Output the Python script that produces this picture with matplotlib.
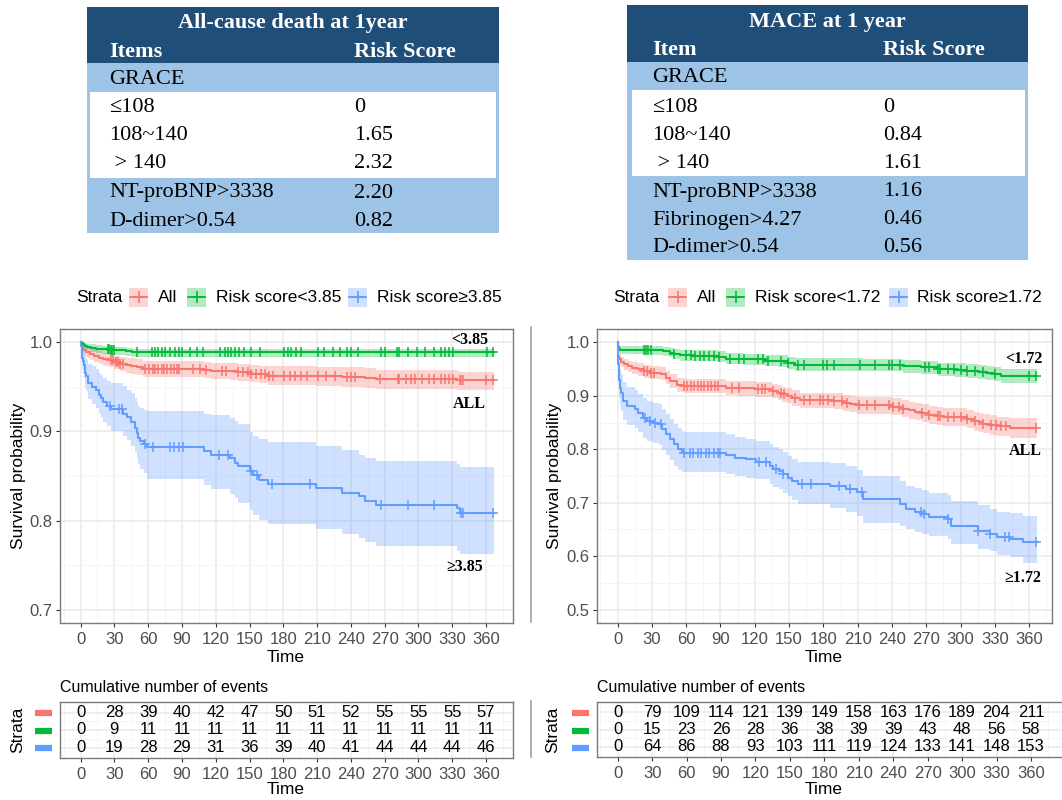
import numpy as np
import matplotlib
matplotlib.use('Agg')
import matplotlib.pyplot as plt
from matplotlib.patches import Rectangle

W, H = 1062, 800
plt.rcParams['font.family'] = ['Liberation Sans', 'DejaVu Sans']
SERIF = ['Liberation Serif', 'DejaVu Serif']

# ---------------- tables ----------------
TBL1_TITLE = "All-cause death at 1year"
TBL1_HEAD = ["Items", "Risk Score"]
TBL1_ITEMS = ["GRACE", "\u2264108", "108~140", " > 140", "NT-proBNP>3338", "D-dimer>0.54"]
TBL1_SCORES = ["", "0", "1.65", "2.32", "2.20", "0.82"]

TBL2_TITLE = "MACE at 1 year"
TBL2_HEAD = ["Item", "Risk Score"]
TBL2_ITEMS = ["GRACE", "\u2264108", "108~140", " > 140", "NT-proBNP>3338", "Fibrinogen>4.27", "D-dimer>0.54"]
TBL2_SCORES = ["", "0", "0.84", "1.61", "1.16", "0.46", "0.56"]

# ---------------- legend labels ----------------
L_LABELS = ["All", "Risk score<3.85", "Risk score\u22653.85"]
R_LABELS = ["All", "Risk score<1.72", "Risk score\u22651.72"]
L_ANNOT = ["<3.85", "ALL", "\u22653.85"]
R_ANNOT = ["<1.72", "ALL", "\u22651.72"]

END_TIME = 367
TIME_BREAKS = [0, 30, 60, 90, 120, 150, 180, 210, 240, 270, 300, 330, 360]

# ---------------- left panel: all-cause death ----------------
L_ALL_T = [0, 1, 2, 3, 5, 8, 12, 16, 20, 25, 30, 35, 40, 45, 50, 55, 110, 116, 133, 140, 150, 158, 166, 209, 232, 253, 262, 334, 337]
L_ALL_S = [1.000, 0.996, 0.993, 0.991, 0.989, 0.987, 0.985, 0.983, 0.981, 0.980, 0.978, 0.976, 0.975, 0.973, 0.972, 0.970,
           0.9690, 0.9682, 0.9674, 0.9665, 0.9650, 0.9640, 0.9625, 0.9618, 0.9610, 0.9600, 0.9590, 0.9582, 0.9574]
L_ALL_LO = [1.000, 0.992, 0.988, 0.985, 0.983, 0.980, 0.978, 0.976, 0.974, 0.972, 0.970, 0.968, 0.966, 0.964, 0.963, 0.961,
            0.960, 0.959, 0.958, 0.957, 0.955, 0.954, 0.952, 0.951, 0.950, 0.949, 0.948, 0.947, 0.946]
L_ALL_HI = [1.000, 0.999, 0.998, 0.997, 0.995, 0.993, 0.992, 0.990, 0.988, 0.987, 0.985, 0.984, 0.983, 0.982, 0.981, 0.979,
            0.978, 0.977, 0.977, 0.976, 0.975, 0.974, 0.973, 0.972, 0.972, 0.971, 0.969, 0.968, 0.967]
L_ALL_C = [27, 29, 31, 33, 35, 38, 57, 61, 64, 66, 69, 72, 74, 77, 80, 83, 86, 87, 100, 106, 111, 126, 129, 140, 144, 149,
           151, 156, 160, 164, 167, 171, 181, 186, 190, 196, 201, 211, 218, 226, 237, 240, 244, 266, 282, 283, 289, 293,
           297, 303, 309, 314, 320, 324, 327, 331, 337, 338, 340, 360, 366]

L_LOW_T = [0, 1, 2, 3, 4, 6, 9, 14, 20, 27, 40, 46]
L_LOW_S = [1.000, 0.999, 0.998, 0.997, 0.996, 0.995, 0.994, 0.993, 0.992, 0.991, 0.990, 0.989]
L_LOW_LO = [1.000, 0.997, 0.995, 0.994, 0.992, 0.991, 0.989, 0.988, 0.987, 0.986, 0.985, 0.984]
L_LOW_HI = [1.000, 1.000, 1.000, 0.999, 0.999, 0.998, 0.998, 0.997, 0.996, 0.995, 0.994, 0.993]
L_LOW_C = [24, 25, 27, 28, 30, 50, 63, 66, 69, 72, 75, 79, 84, 87, 90, 97, 103, 109, 124, 128, 131, 134, 137, 141, 145,
           151, 159, 181, 184, 187, 191, 196, 211, 216, 224, 230, 237, 240, 246, 267, 270, 281, 283, 291, 299, 306, 314,
           320, 324, 327, 331, 361, 366]

L_HIGH_T = [0, 0.5, 1, 1.5, 2, 3, 4, 5, 7, 10, 14, 16, 18, 20, 23, 27, 38, 41, 45, 48, 50, 51, 53, 56, 59, 110, 116,
            133, 137, 140, 150, 153, 158, 166, 209, 232, 247, 253, 262, 334, 337]
L_HIGH_S = [1.000, 0.996, 0.987, 0.983, 0.979, 0.975, 0.966, 0.962, 0.954, 0.950, 0.946, 0.941, 0.937, 0.933, 0.929, 0.925,
            0.920, 0.916, 0.911, 0.904, 0.898, 0.893, 0.889, 0.886, 0.882, 0.878, 0.874, 0.870, 0.865, 0.861, 0.856,
            0.851, 0.846, 0.841, 0.836, 0.831, 0.827, 0.822, 0.818, 0.814, 0.809]
L_HIGH_HI = [1.000, 1.000, 0.998, 0.995, 0.992, 0.990, 0.984, 0.981, 0.976, 0.973, 0.970, 0.966, 0.963, 0.960, 0.957, 0.954,
             0.951, 0.947, 0.943, 0.938, 0.933, 0.929, 0.926, 0.924, 0.923, 0.920, 0.918, 0.915, 0.912, 0.908, 0.899,
             0.895, 0.891, 0.888, 0.884, 0.879, 0.874, 0.870, 0.867, 0.864, 0.860]
L_HIGH_LO = [1.000, 0.988, 0.975, 0.970, 0.966, 0.960, 0.950, 0.945, 0.936, 0.931, 0.926, 0.920, 0.915, 0.911, 0.906, 0.901,
             0.895, 0.890, 0.884, 0.877, 0.870, 0.864, 0.858, 0.853, 0.847, 0.840, 0.835, 0.830, 0.825, 0.820, 0.812,
             0.806, 0.801, 0.796, 0.790, 0.785, 0.780, 0.776, 0.771, 0.766, 0.762]
L_HIGH_C = [26, 34, 37, 57, 64, 79, 83, 87, 91, 123, 131, 151, 157, 170, 204, 267, 291, 314, 338, 340, 366]

# ---------------- right panel: MACE ----------------
R_ALL_T = [0, 0.5, 1, 3, 6, 9, 13, 18, 23, 28, 38, 42, 46, 52, 58, 95, 105, 120, 135, 140, 144, 148, 153, 160, 189, 197,
           203, 209, 240, 249, 255, 260, 266, 272, 279, 285, 306, 312, 316, 320, 326, 332, 343]
R_ALL_S = [1.000, 0.975, 0.968, 0.963, 0.959, 0.955, 0.952, 0.950, 0.946, 0.943, 0.941, 0.934, 0.927, 0.921, 0.918, 0.915,
           0.914, 0.912, 0.909, 0.906, 0.903, 0.900, 0.896, 0.892, 0.890, 0.886, 0.884, 0.882, 0.880, 0.876, 0.873, 0.870,
           0.868, 0.865, 0.863, 0.861, 0.857, 0.853, 0.851, 0.848, 0.846, 0.843, 0.840]
R_ALL_HI = [1.000, 0.984, 0.978, 0.973, 0.969, 0.966, 0.963, 0.961, 0.958, 0.955, 0.953, 0.946, 0.940, 0.934, 0.931, 0.928,
            0.927, 0.925, 0.922, 0.920, 0.917, 0.914, 0.910, 0.906, 0.905, 0.901, 0.899, 0.897, 0.895, 0.892, 0.889, 0.886,
            0.884, 0.881, 0.879, 0.877, 0.874, 0.870, 0.868, 0.866, 0.864, 0.861, 0.859]
R_ALL_LO = [1.000, 0.966, 0.958, 0.953, 0.948, 0.944, 0.940, 0.938, 0.934, 0.931, 0.929, 0.922, 0.914, 0.908, 0.905, 0.901,
            0.900, 0.898, 0.895, 0.892, 0.889, 0.886, 0.881, 0.877, 0.875, 0.871, 0.869, 0.866, 0.864, 0.860, 0.857, 0.854,
            0.851, 0.848, 0.846, 0.844, 0.839, 0.835, 0.833, 0.830, 0.827, 0.824, 0.822]
R_ALL_C = [23, 26, 29, 32, 58, 61, 64, 67, 70, 73, 76, 79, 82, 85, 88, 100, 106, 123, 126, 129, 136, 143, 146, 155, 163,
           168, 177, 180, 184, 189, 196, 201, 211, 218, 225, 237, 241, 246, 250, 266, 272, 280, 282, 289, 294, 300, 306,
           313, 320, 327, 331, 335, 340, 366]

R_LOW_T = [0, 0.5, 1, 2, 30, 40, 46, 49, 55, 65, 89, 95, 110, 129, 140, 149, 155, 215, 250, 265, 280, 295, 305, 315, 322, 329, 335]
R_LOW_S = [1.000, 0.992, 0.988, 0.9865, 0.985, 0.983, 0.981, 0.978, 0.976, 0.975, 0.973, 0.9695, 0.968, 0.966, 0.9645,
           0.9615, 0.9585, 0.9575, 0.955, 0.953, 0.9495, 0.948, 0.946, 0.944, 0.942, 0.940, 0.9375]
R_LOW_HI = [1.000, 0.997, 0.995, 0.994, 0.993, 0.991, 0.990, 0.987, 0.986, 0.985, 0.983, 0.980, 0.979, 0.977, 0.976,
            0.973, 0.970, 0.969, 0.967, 0.965, 0.962, 0.961, 0.959, 0.957, 0.955, 0.953, 0.951]
R_LOW_LO = [1.000, 0.986, 0.981, 0.979, 0.977, 0.975, 0.972, 0.969, 0.966, 0.965, 0.963, 0.959, 0.957, 0.955, 0.953,
            0.950, 0.947, 0.946, 0.943, 0.941, 0.937, 0.935, 0.933, 0.931, 0.929, 0.927, 0.924]
R_LOW_C = [23, 25, 27, 29, 49, 60, 64, 68, 72, 76, 80, 84, 89, 98, 106, 111, 123, 127, 132, 143, 149, 158, 163, 180, 183,
           189, 212, 225, 237, 240, 247, 269, 272, 280, 282, 289, 294, 300, 306, 313, 320, 330, 360, 366]

R_HIGH_T = [0, 0.5, 1, 2, 3, 5, 8, 15, 18, 22, 26, 31, 36, 39, 42, 46, 49, 53, 56, 58, 95, 103, 112, 121, 133, 136, 141,
            145, 149, 153, 158, 186, 200, 209, 215, 247, 252, 260, 266, 272, 289, 292, 315, 326, 332, 343, 355]
R_HIGH_S = [1.000, 0.960, 0.930, 0.915, 0.906, 0.890, 0.881, 0.875, 0.868, 0.859, 0.853, 0.850, 0.847, 0.837, 0.828, 0.819,
            0.809, 0.800, 0.795, 0.793, 0.789, 0.784, 0.781, 0.776, 0.769, 0.763, 0.760, 0.753, 0.747, 0.741, 0.735, 0.732,
            0.726, 0.720, 0.707, 0.698, 0.688, 0.682, 0.679, 0.673, 0.670, 0.657, 0.648, 0.642, 0.635, 0.632, 0.627]
R_HIGH_HI = [1.000, 0.985, 0.962, 0.948, 0.940, 0.925, 0.916, 0.910, 0.904, 0.896, 0.890, 0.886, 0.884, 0.875, 0.866, 0.857,
             0.848, 0.840, 0.834, 0.832, 0.828, 0.823, 0.820, 0.816, 0.809, 0.804, 0.800, 0.794, 0.788, 0.782, 0.777, 0.774,
             0.768, 0.762, 0.750, 0.741, 0.732, 0.727, 0.724, 0.718, 0.715, 0.703, 0.695, 0.689, 0.683, 0.680, 0.675]
R_HIGH_LO = [1.000, 0.935, 0.898, 0.882, 0.872, 0.855, 0.846, 0.840, 0.832, 0.822, 0.816, 0.812, 0.808, 0.798, 0.789, 0.779,
             0.769, 0.762, 0.758, 0.757, 0.754, 0.750, 0.747, 0.744, 0.735, 0.730, 0.725, 0.718, 0.712, 0.706, 0.697, 0.691,
             0.683, 0.675, 0.663, 0.656, 0.651, 0.645, 0.642, 0.637, 0.633, 0.622, 0.613, 0.609, 0.603, 0.598, 0.588]
R_HIGH_C = [24, 28, 33, 38, 58, 63, 66, 70, 73, 77, 80, 84, 88, 90, 124, 130, 139, 145, 161, 169, 194, 203, 214, 265, 268,
            289, 315, 326, 339, 342, 366]

# ---------------- cumulative events tables ----------------
L_EV_ALL = [0, 28, 39, 40, 42, 47, 50, 51, 52, 55, 55, 55, 57]
L_EV_LOW = [0, 9, 11, 11, 11, 11, 11, 11, 11, 11, 11, 11, 11]
L_EV_HIGH = [0, 19, 28, 29, 31, 36, 39, 40, 41, 44, 44, 44, 46]
R_EV_ALL = [0, 79, 109, 114, 121, 139, 149, 158, 163, 176, 189, 204, 211]
R_EV_LOW = [0, 15, 23, 26, 28, 36, 38, 39, 39, 43, 48, 56, 58]
R_EV_HIGH = [0, 64, 86, 88, 93, 103, 111, 119, 124, 133, 141, 148, 153]

RED, GREEN, BLUE = '#F8766D', '#00BA38', '#619CFF'
COLS = [RED, GREEN, BLUE]
DARK, LIGHT = '#1F4E79', '#9DC3E6'

fig = plt.figure(figsize=(W / 100, H / 100), dpi=100)


def frac(x0, y0, x1, y1):
    return [x0 / W, 1 - y1 / H, (x1 - x0) / W, (y1 - y0) / H]


def overlay(z):
    a = fig.add_axes([0, 0, 1, 1], zorder=z)
    a.set_xlim(0, W)
    a.set_ylim(H, 0)
    a.axis('off')
    a.patch.set_alpha(0)
    return a


ov = overlay(0)


def draw_table(box, dark_bottom, white, title, title_x, title_y, head, head_y, items, scores, row_ys, col_x):
    x0, y0, x1, y1 = box
    ov.add_patch(Rectangle((x0, y0), x1 - x0, y1 - y0, facecolor=LIGHT, lw=0))
    ov.add_patch(Rectangle((x0, y0), x1 - x0, dark_bottom - y0, facecolor=DARK, lw=0))
    wx0, wy0, wx1, wy1 = white
    ov.add_patch(Rectangle((wx0, wy0), wx1 - wx0, wy1 - wy0, facecolor='white', lw=0))
    ov.text(title_x, title_y, title, ha='center', va='center', fontsize=16, fontweight='bold',
            color='white', family=SERIF)
    ov.text(col_x[0], head_y, head[0], ha='left', va='center', fontsize=16, fontweight='bold',
            color='white', family=SERIF)
    ov.text(col_x[1], head_y, head[1], ha='left', va='center', fontsize=16, fontweight='bold',
            color='white', family=SERIF)
    for it, sc, yy in zip(items, scores, row_ys):
        ov.text(col_x[0], yy, it, ha='left', va='center', fontsize=16, color='black', family=SERIF)
        if sc:
            ov.text(col_x[1], yy, sc, ha='left', va='center', fontsize=16, color='black', family=SERIF)


draw_table((87, 7, 499, 233), 63, (90, 92, 496, 178), TBL1_TITLE, 293, 23, TBL1_HEAD, 52,
           TBL1_ITEMS, TBL1_SCORES, [79, 108, 136, 163, 193, 221], (109, 354))
draw_table((627, 5, 1028, 260), 62, (632, 90, 1025, 176), TBL2_TITLE, 827, 22, TBL2_HEAD, 50,
           TBL2_ITEMS, TBL2_SCORES, [78, 107, 135, 163, 192, 220, 248], (652, 883))


def legend(x_strata, keys_x, texts_x, labels, yc=297):
    ov.text(x_strata, yc, "Strata", ha='left', va='center', fontsize=12.5, color='black')
    for kx, tx, lab, col in zip(keys_x, texts_x, labels, COLS):
        ov.add_patch(Rectangle((kx, yc - 9.5), 19, 19, facecolor=col, alpha=0.3, lw=0))
        ov.plot([kx + 1, kx + 18], [yc, yc], color=col, lw=1.3)
        ov.plot([kx + 9.5], [yc], ls='none', marker='+', ms=8, mew=1.2, color=col)
        ov.text(tx, yc, lab, ha='left', va='center', fontsize=12.5, color='black')


legend(76, [129, 187, 348], [158, 216, 377], L_LABELS)
legend(613, [668, 726, 889], [697, 755, 917], R_LABELS)


def style_axes(ax):
    for s in ax.spines.values():
        s.set_color('#7A7A7A')
        s.set_linewidth(1.0)
    ax.tick_params(which='minor', length=0)
    ax.tick_params(which='major', length=3.2, width=0.8, color='#333333', labelsize=12,
                   labelcolor='#4D4D4D', pad=2)
    ax.tick_params(axis='x', pad=3.5)
    ax.grid(which='major', color='#EBEBEB', lw=1.1)
    ax.grid(which='minor', color='#F4F4F4', lw=0.6)
    ax.set_axisbelow(True)


def km_panel(rect, xlim, ylim, yticks, curves):
    ax = fig.add_axes(frac(*rect), zorder=2)
    ax.set_xlim(*xlim)
    ax.set_ylim(*ylim)
    ax.set_xticks(TIME_BREAKS)
    ax.set_xticks([m for m in np.arange(-15, xlim[1], 30) if m > xlim[0]], minor=True)
    ax.set_yticks(yticks)
    ax.set_yticklabels([f'{v:.1f}' for v in yticks])
    step = yticks[1] - yticks[0]
    ymin = [m for m in np.arange(yticks[0] - step / 2, ylim[1], step) if ylim[0] < m < ylim[1]]
    ax.set_yticks(ymin, minor=True)
    style_axes(ax)
    for T, S, LO, HI, C, col in curves:
        tt = list(T) + [END_TIME]
        ax.fill_between(tt, list(LO) + [LO[-1]], list(HI) + [HI[-1]], step='post', color=col,
                        alpha=0.3, lw=0)
    for T, S, LO, HI, C, col in curves:
        tt = list(T) + [END_TIME]
        ax.step(tt, list(S) + [S[-1]], where='post', color=col, lw=1.5)
        idx = np.searchsorted(np.array(T), np.array(C), side='right') - 1
        ax.plot(C, np.array(S)[idx], ls='none', marker='+', ms=7.5, mew=1.1, color=col)
    return ax


km_panel((60, 329, 513, 623), (-18.3, 384), (0.685, 1.015), [0.7, 0.8, 0.9, 1.0],
         [(L_ALL_T, L_ALL_S, L_ALL_LO, L_ALL_HI, L_ALL_C, RED),
          (L_LOW_T, L_LOW_S, L_LOW_LO, L_LOW_HI, L_LOW_C, GREEN),
          (L_HIGH_T, L_HIGH_S, L_HIGH_LO, L_HIGH_HI, L_HIGH_C, BLUE)])
km_panel((597, 329, 1052, 623), (-18, 380), (0.475, 1.025), [0.5, 0.6, 0.7, 0.8, 0.9, 1.0],
         [(R_ALL_T, R_ALL_S, R_ALL_LO, R_ALL_HI, R_ALL_C, RED),
          (R_LOW_T, R_LOW_S, R_LOW_LO, R_LOW_HI, R_LOW_C, GREEN),
          (R_HIGH_T, R_HIGH_S, R_HIGH_LO, R_HIGH_HI, R_HIGH_C, BLUE)])


def risk_panel(rect, xlim, rows):
    ax = fig.add_axes(frac(*rect), zorder=2)
    ax.set_xlim(*xlim)
    ax.set_ylim(0.4, 3.6)
    ax.set_xticks(TIME_BREAKS)
    ax.set_xticks([m for m in np.arange(-15, xlim[1], 30) if m > xlim[0]], minor=True)
    ax.set_yticks([1, 2, 3])
    ax.set_yticks([1.5, 2.5], minor=True)
    ax.set_yticklabels([])
    style_axes(ax)
    ax.tick_params(axis='y', length=0)
    for yi, vals in zip([3, 2, 1], rows):
        for t, v in zip(TIME_BREAKS, vals):
            ax.text(t, yi, str(v), ha='center', va='center', fontsize=12, color='black')
    return ax


risk_panel((60, 702, 513, 758), (-18.3, 384), [L_EV_ALL, L_EV_LOW, L_EV_HIGH])
risk_panel((597, 702, 1070, 757), (-18, 394), [R_EV_ALL, R_EV_LOW, R_EV_HIGH])

top = overlay(5)

# axis titles and curve labels (pixel layout)
for xc, yc in [(286, 657), (824, 657)]:
    top.text(xc, yc, "Time", ha='center', va='center', fontsize=12.5, color='black')
for xc in (19, 555):
    top.text(xc, 476, "Survival probability", ha='center', va='center', rotation=90, fontsize=12.5,
             color='black')
for (x, y), lab in zip([(470, 340), (469, 404), (465, 567)], L_ANNOT):
    top.text(x, y, lab, ha='center', va='center', fontsize=11.5, fontweight='bold', family=SERIF)
for (x, y), lab in zip([(1024, 359), (1025, 451), (1023, 578)], R_ANNOT):
    top.text(x, y, lab, ha='center', va='center', fontsize=11.5, fontweight='bold', family=SERIF)

for x0, xs, xbar in [(60, 18, 35), (597, 553, 572)]:
    top.text(x0, 688, "Cumulative number of events", ha='left', va='center', fontsize=11.5, color='black')
    top.text(xs, 730, "Strata", ha='center', va='center', rotation=90, fontsize=12.5, color='black')
    for yy, col in zip([713, 731, 748], COLS):
        top.plot([xbar, xbar + 17], [yy, yy], color=col, lw=4.5, solid_capstyle='butt')
for xc in (286, 824):
    top.text(xc, 789, "Time", ha='center', va='center', fontsize=12.5, color='black')

# thin grey frame edge left of the right-hand panels
top.plot([531, 531], [327, 622], color='#A0A0A0', lw=1.2)
top.plot([531, 531], [701, 757], color='#A0A0A0', lw=1.2)

fig.savefig('out.png', dpi=100)
